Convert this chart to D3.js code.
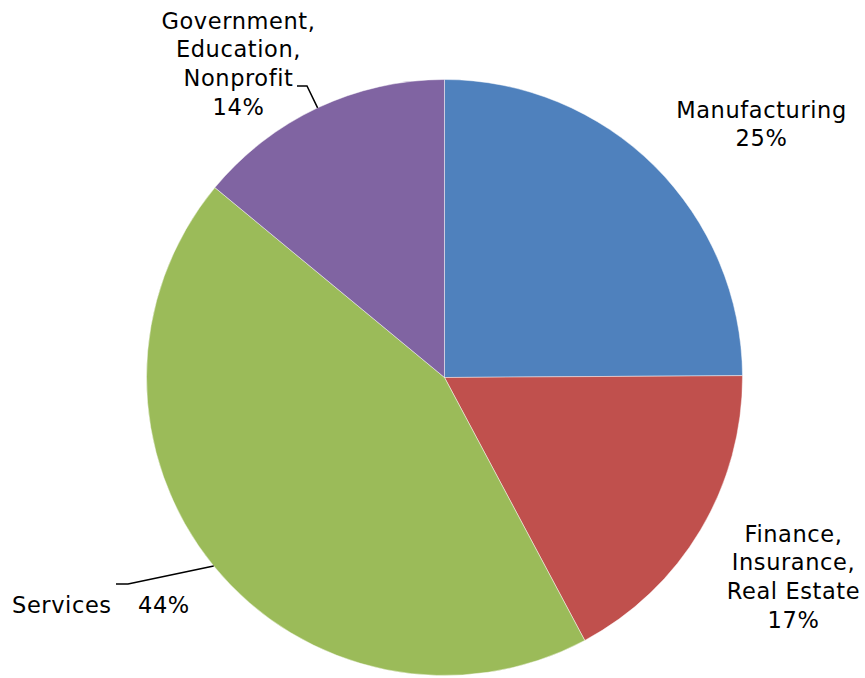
<!DOCTYPE html>
<html>
<head>
<meta charset="utf-8">
<script src="https://cdnjs.cloudflare.com/ajax/libs/d3/7.8.5/d3.min.js"></script>
<style>
  body { margin: 0; background: #fff; }
  text { font-family: "DejaVu Sans", Verdana, sans-serif; font-size: 22.5px; letter-spacing: 0.6px; fill: #000; }
</style>
</head>
<body>
<div id="canvas"></div>
<script>
// data (slice shares in %)
var categories = ['Manufacturing', 'Finance, Insurance, Real Estate', 'Services', 'Government, Education, Nonprofit'];
var shares = [24.9, 17.3, 43.8, 14.0];
var labels = ['25%', '17%', '44%', '14%'];
var colors = ['#4F81BD', '#C0504D', '#9BBB59', '#8064A2'];

var W = 865, H = 678;
var cx = 444.5, cy = 377.5, r = 298;

var svg = d3.select('#canvas')
    .append('svg')
    .attr('width', W)
    .attr('height', H);

var plot = svg.append('g')
    .attr('transform', 'translate(' + cx + ',' + cy + ')');

var rows = categories.map(function(c, i){
    return {name: c, value: shares[i], label: labels[i], color: colors[i]};
});

var pie = d3.pie()
    .sort(null)
    .value(function(d){ return d.value; });

var arc = d3.arc().innerRadius(0).outerRadius(r);
var edge = d3.arc().innerRadius(r).outerRadius(r);

var arcs = pie(rows);

plot.selectAll('.slice')
    .data(arcs)
    .enter()
    .append('path')
    .attr('class', 'slice')
    .attr('d', arc)
    .style('fill', function(d){ return d.data.color; })
    .style('stroke', 'rgba(255,255,255,0.45)')
    .style('stroke-width', 1);

// label placement (offsets from pie center), one per slice
var layout = {
    'Manufacturing': {x: 317, y: -260, lines: ['Manufacturing']},
    'Finance, Insurance, Real Estate': {x: 349, y: 164, lines: ['Finance,', 'Insurance,', 'Real Estate']},
    'Government, Education, Nonprofit': {x: -206, y: -349, lines: ['Government,', 'Education,', 'Nonprofit']}
};

var lineH = 28.7;

arcs.forEach(function(d){
    var name = d.data.name;
    if (name === 'Services') {
        plot.append('text')
            .attr('x', 12 - cx)
            .attr('y', 613 - cy)
            .text('Services');
        plot.append('text')
            .attr('x', 138 - cx)
            .attr('y', 613 - cy)
            .text(d.data.label);
        var p = edge.centroid(d);
        plot.append('path')
            .attr('d', d3.line()([p, [128 - cx, 584 - cy], [116 - cx, 584 - cy]]))
            .style('fill', 'none')
            .style('stroke', '#000')
            .style('stroke-width', 1.5);
        return;
    }
    var L = layout[name];
    var t = plot.append('text')
        .attr('text-anchor', 'middle')
        .attr('x', L.x)
        .attr('y', L.y);
    L.lines.concat([d.data.label]).forEach(function(s, i){
        t.append('tspan')
            .attr('x', L.x)
            .attr('y', L.y + i * lineH)
            .text(s);
    });
    if (name === 'Government, Education, Nonprofit') {
        var q = edge.centroid(d);
        plot.append('path')
            .attr('d', d3.line()([q, [307 - cx, 86 - cy], [297 - cx, 86 - cy]]))
            .style('fill', 'none')
            .style('stroke', '#000')
            .style('stroke-width', 1.5);
    }
});
</script>
</body>
</html>
